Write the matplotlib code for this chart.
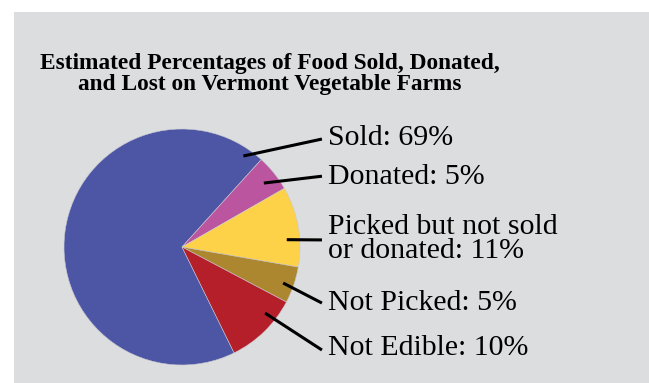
import numpy as np
import matplotlib.pyplot as plt
from matplotlib.patches import Rectangle

# Share of food from Vermont vegetable farms (percent)
categories = ["Sold", "Donated", "Picked but not sold\nor donated", "Not Picked", "Not Edible"]
shares = [69, 5, 11, 5, 10]
colors = ["#4d55a5", "#bb559f", "#fed248", "#ad872f", "#b51f2a"]

# label layout: where each leader line touches the pie and where its text sits
anchor_angle = [56, 38, 4, -19.6, -38.5]
anchor_r = [0.93, 0.88, 0.89, 0.91, 0.90]
label_y = [0.924, 0.593, 0.068, -0.475, -0.856]
line_end_y = [0.915, 0.60, 0.06, -0.475, -0.873]

bg = "#dcdddf"
fig = plt.figure(figsize=(6.49, 3.83), dpi=100)
fig.patch.set_facecolor("white")
fig.patches.append(Rectangle((14 / 649, 0), 1, 371 / 383, transform=fig.transFigure,
                             facecolor=bg, edgecolor="none", zorder=-5))

fig.text(0.416, 0.806, "Estimated Percentages of Food Sold, Donated,\nand Lost on Vermont Vegetable Farms",
         ha="center", va="center", fontsize=16.8, fontweight="bold",
         family="Liberation Serif", linespacing=0.98)

ax = fig.add_axes([64 / 649, 18 / 383, 236 / 649, 236 / 383])
ax.set_facecolor("none")
ax.pie(shares, colors=colors, startangle=296.2, counterclock=False,
       wedgeprops=dict(edgecolor="#c8c8d0", linewidth=0.4))
ax.set_xlim(-1, 1)
ax.set_ylim(-1, 1)
ax.set_aspect("equal")
ax.axis("off")

for name, val, ang, r, ty, ly in zip(categories, shares, anchor_angle, anchor_r, label_y, line_end_y):
    x0 = r * np.cos(np.radians(ang))
    y0 = r * np.sin(np.radians(ang))
    ax.plot([x0, 1.186], [y0, ly], color="black", lw=2.2, clip_on=False, solid_capstyle="butt")
    ax.text(1.237, ty, f"{name}: {val}%", ha="left", va="center", fontsize=21.5,
            family="Liberation Serif", linespacing=0.86, clip_on=False)

fig.savefig("out.png", dpi=100, facecolor=fig.get_facecolor())
